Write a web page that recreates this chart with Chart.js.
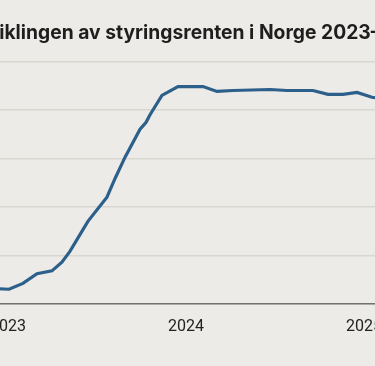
<!DOCTYPE html>
<html>
<head>
<meta charset="utf-8">
<script src="https://cdn.jsdelivr.net/npm/chart.js@4.4.1/dist/chart.umd.min.js"></script>
<style>
    html, body { margin: 0; padding: 0; background: #ecebe7; overflow: hidden; }
    #wrap { position: absolute; left: -70px; top: 0; width: 520px; height: 366px; }
</style>
</head>
<body>
<div id="wrap"><canvas id="rateChart" width="520" height="366"></canvas></div>
<script>
// Styringsrenten (prosent), tidspunkt som desimalår
const dates = [
    2022.899, 2023.006, 2023.084, 2023.163, 2023.247, 2023.303, 2023.348,
    2023.449, 2023.556, 2023.601, 2023.657, 2023.742, 2023.775, 2023.798,
    2023.865, 2023.955, 2024.096, 2024.174, 2024.264, 2024.472, 2024.567,
    2024.713, 2024.798, 2024.882, 2024.961, 2025.045, 2025.12
];
const rates = [
    2.66, 2.65, 2.71, 2.81, 2.84, 2.93, 3.04,
    3.35, 3.60, 3.79, 4.01, 4.30, 4.37, 4.45,
    4.65, 4.74, 4.74, 4.69, 4.70, 4.71, 4.70,
    4.70, 4.66, 4.66, 4.68, 4.63, 4.61
];
const yearTicks = [2023, 2024, 2025];
const title = 'Utviklingen av styringsrenten i Norge 2023–2025';

const points = dates.map((d, i) => ({ x: d, y: rates[i] }));

// Bakgrunnsfarge for hele lerretet
const bgPlugin = {
    id: 'bg',
    beforeDraw(chart) {
        const ctx = chart.ctx;
        ctx.save();
        ctx.fillStyle = '#ecebe7';
        ctx.fillRect(0, 0, chart.width, chart.height);
        ctx.restore();
    }
};

new Chart(document.getElementById('rateChart'), {
    type: 'line',
    data: {
        datasets: [{
            label: 'Styringsrente',
            data: points,
            borderColor: '#2d5f8b',
            borderWidth: 3.2,
            pointRadius: 0,
            tension: 0,
            fill: false
        }]
    },
    options: {
        responsive: false,
        animation: false,
        layout: { padding: { left: 36, right: 20, top: 0, bottom: 15 } },
        plugins: {
            legend: { display: false },
            tooltip: { enabled: false },
            title: {
                display: true,
                text: title,
                color: '#1e1e1e',
                font: { family: 'Inter', size: 19.5, weight: '700' },
                padding: { top: 21, bottom: 17 }
            }
        },
        scales: {
            x: {
                type: 'linear',
                min: 2022.899,
                max: 2025.371,
                afterBuildTicks: scale => { scale.ticks = yearTicks.map(v => ({ value: v })); },
                ticks: {
                    callback: v => String(v),
                    color: '#222',
                    font: { family: 'Roboto', size: 16 },
                    padding: 14,
                    maxRotation: 0
                },
                grid: { display: false, drawTicks: false },
                border: { display: true, color: '#727272', width: 1.5 }
            },
            y: {
                min: 2.5,
                max: 5.0,
                afterFit: scale => { scale.width = 24; },
                ticks: { stepSize: 0.5, color: '#222', font: { family: 'Roboto', size: 14 } },
                grid: { color: '#d9d7d2', lineWidth: 1.5, drawTicks: false },
                border: { display: false }
            }
        }
    },
    plugins: [bgPlugin]
});
</script>
</body>
</html>
